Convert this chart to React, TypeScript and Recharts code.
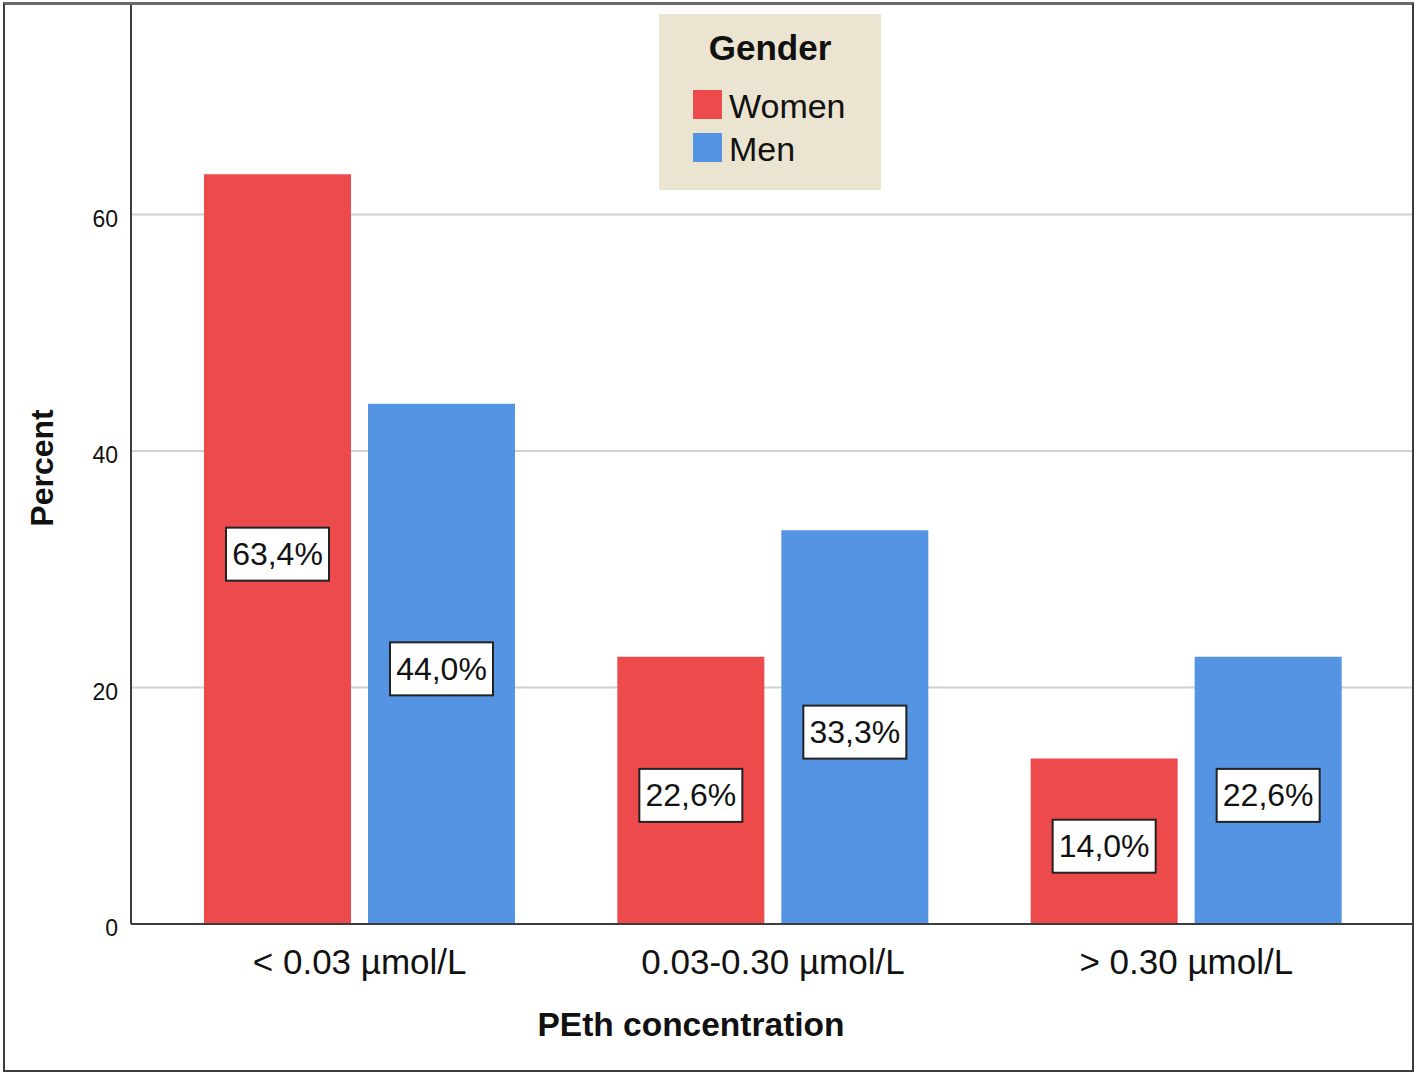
import React from "react";
import {
  BarChart,
  Bar,
  XAxis,
  YAxis,
  CartesianGrid,
  Legend,
  LabelList,
  Label,
} from "recharts";

const categories = ["< 0.03 µmol/L", "0.03-0.30 µmol/L", "> 0.30 µmol/L"];
const womenValues = [63.4, 22.6, 14.0];
const menValues = [44.0, 33.3, 22.6];
const yTicks = [0, 20, 40, 60];

const FONT = '"Liberation Sans", Arial, sans-serif';
const RED = "#EC4A4B";
const BLUE = "#5594E3";

const data = categories.map((name, i) => ({
  name,
  Women: womenValues[i],
  Men: menValues[i],
}));

const fmt = (v: number) => v.toFixed(1).replace(".", ",") + "%";

// boxed percentage label in the middle of each bar
const BoxLabel = (props: any) => {
  const { x, y, width, height, value } = props;
  const cx = Number(x) + Number(width) / 2;
  const cy = Number(y) + Number(height) / 2 + 5;
  const w = 103;
  const h = 53;
  return (
    <g>
      <rect
        x={cx - w / 2}
        y={cy - h / 2}
        width={w}
        height={h}
        fill="#fff"
        stroke="#222"
        strokeWidth={2}
      />
      <text
        x={cx}
        y={cy + 11}
        textAnchor="middle"
        fontFamily={FONT}
        fontSize={32}
        fill="#111"
      >
        {fmt(Number(value))}
      </text>
    </g>
  );
};

const legendItems = [
  { label: "Women", color: RED, top: 76 },
  { label: "Men", color: BLUE, top: 119 },
];

const GenderLegend = () => (
  <div
    style={{
      width: 222,
      height: 176,
      background: "#EAE4D0",
      fontFamily: FONT,
      color: "#111",
      position: "relative",
    }}
  >
    <div
      style={{
        position: "absolute",
        top: 14,
        width: "100%",
        textAlign: "center",
        fontWeight: "bold",
        fontSize: 35,
        lineHeight: "40px",
      }}
    >
      Gender
    </div>
    {legendItems.map((it) => (
      <React.Fragment key={it.label}>
        <div style={{ position: "absolute", left: 34, top: it.top, width: 29, height: 29, background: it.color }} />
        <div
          style={{
            position: "absolute",
            left: 70,
            top: it.top - 4,
            fontSize: 34,
            lineHeight: "40px",
          }}
        >
          {it.label}
        </div>
      </React.Fragment>
    ))}
  </div>
);

export default function App() {
  return (
    <div style={{ position: "absolute", left: 0, top: 0, width: 1416, height: 1075, background: "#fff" }}>
      <div
        style={{
          position: "absolute",
          left: 3,
          top: 2,
          width: 1411,
          height: 1070,
          border: "2px solid #3c3c3c",
          borderTop: "3px solid #6a6a6a",
          boxSizing: "border-box",
          pointerEvents: "none",
          zIndex: 2,
        }}
      />
      <BarChart
        width={1416}
        height={1075}
        data={data}
        margin={{ top: 4, right: 4, bottom: 0, left: 4 }}
        barSize={147}
        barGap={17}
      >
        <CartesianGrid horizontal vertical={false} stroke="#d0d0d0" strokeWidth={2} />
        <XAxis
          dataKey="name"
          height={151}
          padding={{ left: 22, right: 19 }}
          axisLine={{ stroke: "#3c3c3c", strokeWidth: 2 }}
          tickLine={false}
          tickSize={0}
          tickMargin={25}
          tick={{ fontFamily: FONT, fontSize: 35, fill: "#111" }}
        >
          <Label
            content={(p: any) => {
              const vb = p.viewBox;
              return (
                <text
                  x={691}
                  y={vb.y + 112}
                  textAnchor="middle"
                  fontFamily={FONT}
                  fontSize={33.5}
                  fontWeight="bold"
                  fill="#111"
                >
                  PEth concentration
                </text>
              );
            }}
          />
        </XAxis>
        <YAxis
          width={127}
          domain={[0, 77.8]}
          ticks={yTicks}
          interval={0}
          axisLine={{ stroke: "#3c3c3c", strokeWidth: 2 }}
          tickLine={false}
          tickSize={0}
          tickMargin={13}
          tick={{ fontFamily: FONT, fontSize: 23, fill: "#111", dy: 4 }}
        >
          <Label
            content={(p: any) => {
              const vb = p.viewBox;
              const cy = vb.y + vb.height / 2 + 4;
              return (
                <text
                  x={53}
                  y={cy}
                  transform={`rotate(-90 53 ${cy})`}
                  textAnchor="middle"
                  fontFamily={FONT}
                  fontSize={32}
                  fontWeight="bold"
                  fill="#111"
                >
                  Percent
                </text>
              );
            }}
          />
        </YAxis>
        <Legend
          layout="vertical"
          align="center"
          verticalAlign="middle"
          content={() => <GenderLegend />}
          wrapperStyle={{ left: 659, top: 14, width: 222, height: 176 }}
        />
        <Bar dataKey="Women" fill={RED} isAnimationActive={false}>
          <LabelList dataKey="Women" content={BoxLabel} />
        </Bar>
        <Bar dataKey="Men" fill={BLUE} isAnimationActive={false}>
          <LabelList dataKey="Men" content={BoxLabel} />
        </Bar>
      </BarChart>
    </div>
  );
}
